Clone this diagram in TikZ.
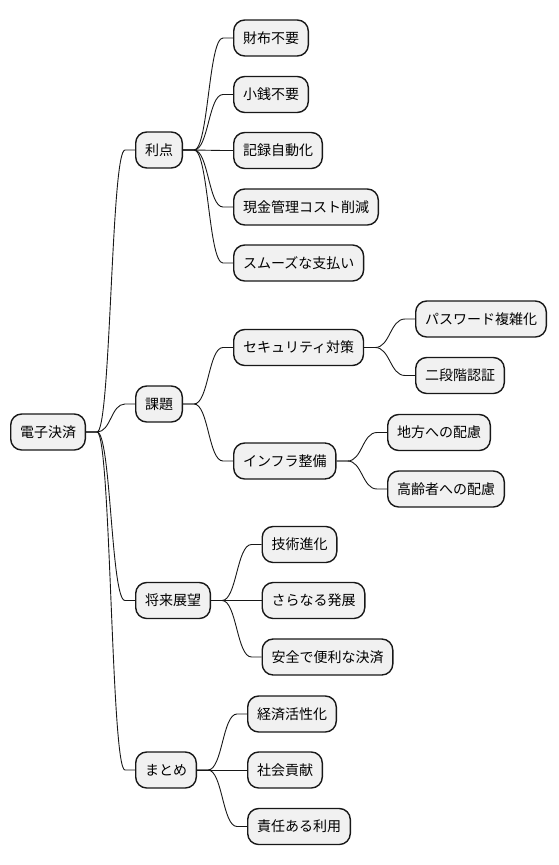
\documentclass[tikz,border=0pt]{standalone}
\usepackage{fontspec}
\setmainfont{Noto Sans CJK JP}
\usetikzlibrary{calc}
\definecolor{boxfill}{HTML}{F1F1F1}
\definecolor{boxline}{HTML}{181818}
\definecolor{edgeline}{HTML}{181818}
\newcommand\mmlink[2]{\draw[edge] let \p1=(#1.east), \p2=(#2.west), \n1={0.5*(\x2-\x1)-10.5} in (\p1) -- ({\x1+11},\y1) .. controls ({\x1+11+\n1},\y1) and ({\x2-10-\n1},\y2) .. ({\x2-10},\y2) -- (\p2);}
\begin{document}
\begin{tikzpicture}[x=1pt,y=-1pt,
  box/.style={draw=boxline, fill=boxfill, line width=1.4pt, rounded corners=11pt,
    minimum height=36pt, inner xsep=9.3pt, inner ysep=0pt, anchor=west,
    font=\fontsize{14}{16}\selectfont, text=black},
  edge/.style={draw=edgeline, line width=0.9pt}]
\useasboundingbox (0,0) rectangle (558,865);
\node[box] (root) at (10,432) {電子決済};
\node[box] (a) at (135,150) {利点};
\node[box] (a1) at (233,38) {財布不要};
\node[box] (a2) at (233,94.5) {小銭不要};
\node[box] (a3) at (233,150.5) {記録自動化};
\node[box] (a4) at (233,207) {現金管理コスト削減};
\node[box] (a5) at (233,263) {スムーズな支払い};
\node[box] (b) at (135,404) {課題};
\node[box] (b1) at (233,347.5) {セキュリティ対策};
\node[box] (b11) at (415,319) {パスワード複雑化};
\node[box] (b12) at (415,375.5) {二段階認証};
\node[box] (b2) at (233,461) {インフラ整備};
\node[box] (b21) at (387,432.5) {地方への配慮};
\node[box] (b22) at (387,489) {高齢者への配慮};
\node[box] (c) at (135,600.5) {将来展望};
\node[box] (c1) at (261.5,544.5) {技術進化};
\node[box] (c2) at (261.5,600.5) {さらなる発展};
\node[box] (c3) at (261.5,657) {安全で便利な決済};
\node[box] (d) at (135,770) {まとめ};
\node[box] (d1) at (247,714) {経済活性化};
\node[box] (d2) at (247,770) {社会貢献};
\node[box] (d3) at (247,826.5) {責任ある利用};
\mmlink{root}{a}\mmlink{root}{b}\mmlink{root}{c}\mmlink{root}{d}
\mmlink{a}{a1}\mmlink{a}{a2}\mmlink{a}{a3}\mmlink{a}{a4}\mmlink{a}{a5}
\mmlink{b}{b1}\mmlink{b}{b2}
\mmlink{b1}{b11}\mmlink{b1}{b12}
\mmlink{b2}{b21}\mmlink{b2}{b22}
\mmlink{c}{c1}\mmlink{c}{c2}\mmlink{c}{c3}
\mmlink{d}{d1}\mmlink{d}{d2}\mmlink{d}{d3}
\end{tikzpicture}
\end{document}
